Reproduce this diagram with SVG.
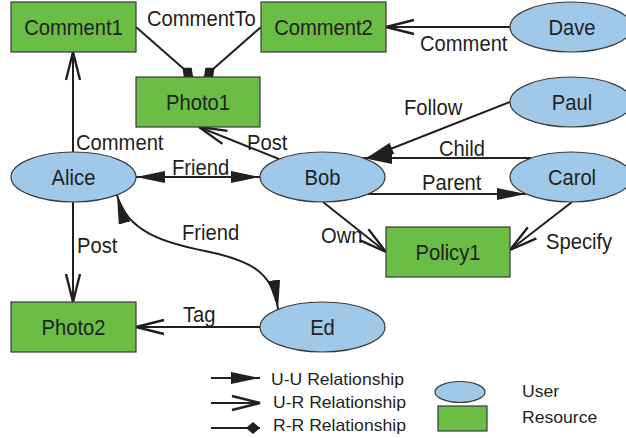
<svg xmlns="http://www.w3.org/2000/svg" width="626" height="438" viewBox="0 0 626 438">
  <style>
    text { font-family: "Liberation Sans", Arial, sans-serif; fill: #231f20; }
    .lbl, .nl { font-size: 20.2px; transform-box: fill-box; transform-origin: 50% 81%; transform: scaleY(1.09); }
    .nl { text-anchor: middle; }
    .lg { font-size: 17.6px; transform-box: fill-box; transform-origin: 50% 81%; transform: scaleY(0.95); }
    .res { fill: #6abd45; stroke: #3a3a3a; stroke-width: 1.2; }
    .usr { fill: #9fc8e9; stroke: #3a3a3a; stroke-width: 1.2; }
    .e { fill: none; stroke: #231f20; stroke-width: 2; }
    .uu { marker-end: url(#uu); }
    .uu2 { marker-start: url(#uu); marker-end: url(#uu); }
    .ur { marker-end: url(#ur); }
    .rr { marker-end: url(#rr); }
  </style>
  <defs>
    <!-- user-user: filled triangle -->
    <marker id="uu" markerUnits="userSpaceOnUse" markerWidth="30" markerHeight="14" viewBox="0 0 30 14" refX="29" refY="7" orient="auto-start-reverse">
      <path d="M0,1 L29,7 L0,13 Z" fill="#231f20"/>
    </marker>
    <!-- user-resource: open chevron -->
    <marker id="ur" markerUnits="userSpaceOnUse" markerWidth="32" markerHeight="18" viewBox="0 0 32 18" refX="29" refY="9" orient="auto">
      <path d="M1,2 L29,9 L1,16" fill="none" stroke="#231f20" stroke-width="2.4"/>
    </marker>
    <!-- resource-resource: diamond -->
    <marker id="rr" markerUnits="userSpaceOnUse" markerWidth="16" markerHeight="14" viewBox="0 0 16 14" refX="15" refY="7" orient="auto">
      <path d="M1,7 L8,1 L15,7 L8,13 Z" fill="#231f20"/>
    </marker>
  </defs>

  <g id="connectors">
    <line class="e rr" x1="136" y1="27" x2="193" y2="77"/>
    <line class="e rr" x1="261" y1="27" x2="204" y2="77"/>
    <line class="e ur" x1="510" y1="27" x2="386" y2="27"/>
    <line class="e uu" x1="510" y1="102" x2="365" y2="159"/>
    <line class="e uu" x1="531" y1="158" x2="363" y2="158"/>
    <line class="e uu" x1="368" y1="194" x2="526" y2="194"/>
    <line class="e ur" x1="279" y1="159" x2="199" y2="127"/>
    <line class="e ur" x1="323" y1="202" x2="386" y2="252"/>
    <line class="e ur" x1="572" y1="202" x2="510" y2="250"/>
    <line class="e uu2" x1="136" y1="177" x2="260" y2="177"/>
    <line class="e ur" x1="73" y1="152" x2="73" y2="52"/>
    <line class="e ur" x1="73" y1="202" x2="73" y2="302"/>
    <path class="e uu2" d="M117,195 C127,232 165,243 205,251 C250,260 273,272 278,309"/>
    <line class="e ur" x1="260" y1="327" x2="136" y2="327"/>

    <text class="lbl" x="147" y="26">CommentTo</text>
    <text class="lbl" x="420" y="51">Comment</text>
    <text class="lbl" x="404" y="115">Follow</text>
    <text class="lbl" x="439" y="156">Child</text>
    <text class="lbl" x="422" y="190">Parent</text>
    <text class="lbl" x="247" y="150">Post</text>
    <text class="lbl" x="76" y="150">Comment</text>
    <text class="lbl" x="172" y="175">Friend</text>
    <text class="lbl" x="321" y="243">Own</text>
    <text class="lbl" x="546" y="249">Specify</text>
    <text class="lbl" x="77" y="253">Post</text>
    <text class="lbl" x="182" y="240">Friend</text>
    <text class="lbl" x="183" y="322">Tag</text>
  </g>

  <g id="Comment1"><rect class="res" x="11" y="2" width="125" height="50"/><text class="nl" x="73.5" y="35">Comment1</text></g>
  <g id="Comment2"><rect class="res" x="261" y="2" width="125" height="50"/><text class="nl" x="323.5" y="35">Comment2</text></g>
  <g id="Photo1"><rect class="res" x="136" y="77" width="124" height="50"/><text class="nl" x="198" y="110">Photo1</text></g>
  <g id="Policy1"><rect class="res" x="386" y="227" width="124" height="50"/><text class="nl" x="448" y="260">Policy1</text></g>
  <g id="Photo2"><rect class="res" x="11" y="302" width="125" height="50"/><text class="nl" x="73.5" y="335">Photo2</text></g>

  <g id="Alice"><ellipse class="usr" cx="73.5" cy="177" rx="62.5" ry="25"/><text class="nl" x="73.5" y="185">Alice</text></g>
  <g id="Bob"><ellipse class="usr" cx="322.5" cy="177" rx="62.5" ry="25"/><text class="nl" x="322.5" y="185">Bob</text></g>
  <g id="Ed"><ellipse class="usr" cx="322.5" cy="327" rx="62.5" ry="25"/><text class="nl" x="322.5" y="335">Ed</text></g>
  <g id="Dave"><ellipse class="usr" cx="571" cy="27" rx="61" ry="25"/><text class="nl" x="572" y="35">Dave</text></g>
  <g id="Paul"><ellipse class="usr" cx="571" cy="102" rx="61" ry="25"/><text class="nl" x="572" y="110">Paul</text></g>
  <g id="Carol"><ellipse class="usr" cx="571" cy="177" rx="61" ry="25"/><text class="nl" x="572" y="185">Carol</text></g>

  <g id="legend">
    <line class="e uu" x1="211" y1="378" x2="260" y2="378"/>
    <line class="e ur" x1="211" y1="403" x2="260" y2="403"/>
    <line class="e rr" x1="211" y1="428" x2="260" y2="428"/>
    <text class="lg" x="271" y="385">U-U Relationship</text>
    <text class="lg" x="273" y="408">U-R Relationship</text>
    <text class="lg" x="273" y="431">R-R Relationship</text>
    <ellipse class="usr" cx="460" cy="392" rx="25" ry="10.5"/>
    <rect class="res" x="438" y="406" width="49" height="25"/>
    <text class="lg" x="522" y="397">User</text>
    <text class="lg" x="522" y="423">Resource</text>
  </g>
</svg>
